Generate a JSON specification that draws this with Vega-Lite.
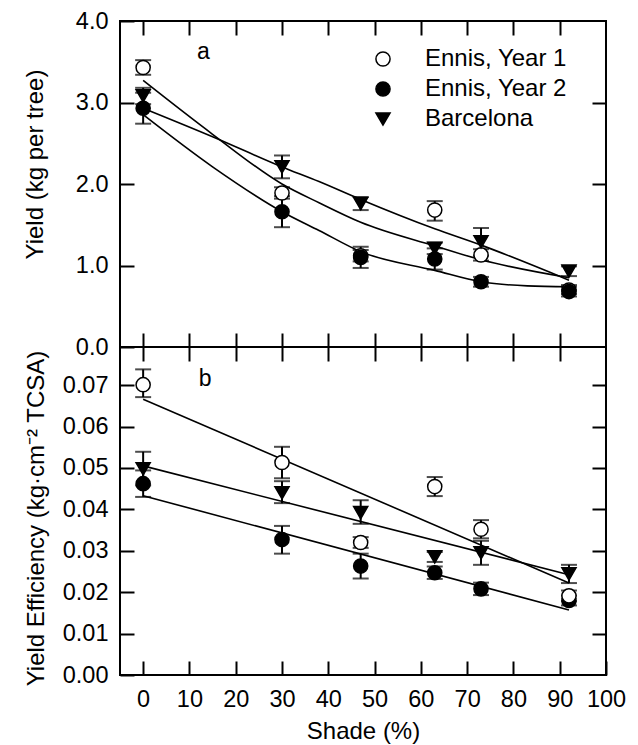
{
  "$schema": "https://vega.github.io/schema/vega-lite/v6.json",
  "background": "white",
  "padding": {"left": 22, "top": 8, "right": 5, "bottom": 0},
  "spacing": 0,
  "bounds": "flush",
  "config": {
    "font": "Liberation Sans",
    "view": {"stroke": "black", "strokeWidth": 2},
    "axis": {"domain": false, "grid": false, "ticks": true, "tickColor": "black", "tickWidth": 2, "tickSize": 14, "offset": -14,
      "labelFont": "Liberation Sans", "labelFontSize": 23.5, "labelColor": "black", "labelPadding": 12, "labelOverlap": false, "labelFlush": false,
      "titleFont": "Liberation Sans", "titleFontSize": 24, "titleFontWeight": "normal", "titleColor": "black"},
    "legend": {"labelFont": "Liberation Sans", "labelFontSize": 24, "labelColor": "black"}
  },
  "resolve": {"scale": {"x": "independent", "y": "independent", "shape": "independent", "fill": "independent", "stroke": "independent"}},
  "datasets": {
    "yield_pts": [
      {"series": "Ennis, Year 1", "shade": 0, "value": 3.43, "lo": 3.34, "hi": 3.52},
      {"series": "Ennis, Year 1", "shade": 30, "value": 1.89, "lo": 1.82, "hi": 1.96},
      {"series": "Ennis, Year 1", "shade": 47, "value": 1.12, "lo": 1.05, "hi": 1.19},
      {"series": "Ennis, Year 1", "shade": 63, "value": 1.68, "lo": 1.55, "hi": 1.79},
      {"series": "Ennis, Year 1", "shade": 73, "value": 1.13, "lo": 1.06, "hi": 1.20},
      {"series": "Ennis, Year 1", "shade": 92, "value": 0.70, "lo": 0.65, "hi": 0.76},
      {"series": "Ennis, Year 2", "shade": 0, "value": 2.93, "lo": 2.74, "hi": 3.12},
      {"series": "Ennis, Year 2", "shade": 30, "value": 1.66, "lo": 1.47, "hi": 1.85},
      {"series": "Ennis, Year 2", "shade": 47, "value": 1.10, "lo": 0.97, "hi": 1.23},
      {"series": "Ennis, Year 2", "shade": 63, "value": 1.08, "lo": 0.95, "hi": 1.21},
      {"series": "Ennis, Year 2", "shade": 73, "value": 0.80, "lo": 0.74, "hi": 0.86},
      {"series": "Ennis, Year 2", "shade": 92, "value": 0.68, "lo": 0.62, "hi": 0.74},
      {"series": "Barcelona", "shade": 0, "value": 3.08, "lo": 2.98, "hi": 3.18},
      {"series": "Barcelona", "shade": 30, "value": 2.21, "lo": 2.07, "hi": 2.35},
      {"series": "Barcelona", "shade": 47, "value": 1.76, "lo": 1.68, "hi": 1.84},
      {"series": "Barcelona", "shade": 63, "value": 1.21, "lo": 1.14, "hi": 1.28},
      {"series": "Barcelona", "shade": 73, "value": 1.29, "lo": 1.12, "hi": 1.46},
      {"series": "Barcelona", "shade": 92, "value": 0.93, "lo": 0.87, "hi": 0.99}
    ],
    "yield_fit": [
      {"series": "Ennis, Year 1", "shade": 0, "value": 3.27},
      {"series": "Ennis, Year 1", "shade": 15, "value": 2.61},
      {"series": "Ennis, Year 1", "shade": 30, "value": 2.00},
      {"series": "Ennis, Year 1", "shade": 38, "value": 1.77},
      {"series": "Ennis, Year 1", "shade": 47, "value": 1.53},
      {"series": "Ennis, Year 1", "shade": 63, "value": 1.24},
      {"series": "Ennis, Year 1", "shade": 73, "value": 1.07},
      {"series": "Ennis, Year 1", "shade": 92, "value": 0.85},
      {"series": "Ennis, Year 2", "shade": 0, "value": 2.85},
      {"series": "Ennis, Year 2", "shade": 15, "value": 2.21},
      {"series": "Ennis, Year 2", "shade": 30, "value": 1.66},
      {"series": "Ennis, Year 2", "shade": 38, "value": 1.43},
      {"series": "Ennis, Year 2", "shade": 47, "value": 1.17},
      {"series": "Ennis, Year 2", "shade": 63, "value": 0.94},
      {"series": "Ennis, Year 2", "shade": 73, "value": 0.80},
      {"series": "Ennis, Year 2", "shade": 83, "value": 0.75},
      {"series": "Ennis, Year 2", "shade": 92, "value": 0.74},
      {"series": "Barcelona", "shade": 0, "value": 2.93},
      {"series": "Barcelona", "shade": 15, "value": 2.58},
      {"series": "Barcelona", "shade": 30, "value": 2.21},
      {"series": "Barcelona", "shade": 38, "value": 2.03},
      {"series": "Barcelona", "shade": 47, "value": 1.81},
      {"series": "Barcelona", "shade": 63, "value": 1.45},
      {"series": "Barcelona", "shade": 73, "value": 1.25},
      {"series": "Barcelona", "shade": 92, "value": 0.82}
    ],
    "eff_pts": [
      {"series": "Ennis, Year 2", "shade": 0, "value": 0.0462, "lo": 0.0430, "hi": 0.0494},
      {"series": "Ennis, Year 2", "shade": 30, "value": 0.0327, "lo": 0.0293, "hi": 0.0360},
      {"series": "Ennis, Year 2", "shade": 47, "value": 0.0263, "lo": 0.0233, "hi": 0.0293},
      {"series": "Ennis, Year 2", "shade": 63, "value": 0.0247, "lo": 0.0232, "hi": 0.0262},
      {"series": "Ennis, Year 2", "shade": 73, "value": 0.0208, "lo": 0.0193, "hi": 0.0223},
      {"series": "Ennis, Year 2", "shade": 92, "value": 0.0180, "lo": 0.0168, "hi": 0.0192},
      {"series": "Ennis, Year 1", "shade": 0, "value": 0.0701, "lo": 0.0671, "hi": 0.0738},
      {"series": "Ennis, Year 1", "shade": 30, "value": 0.0513, "lo": 0.0475, "hi": 0.0551},
      {"series": "Ennis, Year 1", "shade": 47, "value": 0.0320, "lo": 0.0307, "hi": 0.0333},
      {"series": "Ennis, Year 1", "shade": 63, "value": 0.0455, "lo": 0.0432, "hi": 0.0478},
      {"series": "Ennis, Year 1", "shade": 73, "value": 0.0352, "lo": 0.0330, "hi": 0.0374},
      {"series": "Ennis, Year 1", "shade": 92, "value": 0.0191, "lo": 0.0178, "hi": 0.0204},
      {"series": "Barcelona", "shade": 0, "value": 0.0498, "lo": 0.0458, "hi": 0.0539},
      {"series": "Barcelona", "shade": 30, "value": 0.0440, "lo": 0.0415, "hi": 0.0468},
      {"series": "Barcelona", "shade": 47, "value": 0.0392, "lo": 0.0365, "hi": 0.0422},
      {"series": "Barcelona", "shade": 63, "value": 0.0285, "lo": 0.0273, "hi": 0.0297},
      {"series": "Barcelona", "shade": 73, "value": 0.0295, "lo": 0.0266, "hi": 0.0324},
      {"series": "Barcelona", "shade": 92, "value": 0.0244, "lo": 0.0222, "hi": 0.0266}
    ],
    "eff_fit": [
      {"series": "Ennis, Year 1", "shade": 0, "value": 0.0666},
      {"series": "Ennis, Year 1", "shade": 92, "value": 0.0222},
      {"series": "Ennis, Year 2", "shade": 0, "value": 0.0433},
      {"series": "Ennis, Year 2", "shade": 92, "value": 0.0157},
      {"series": "Barcelona", "shade": 0, "value": 0.0505},
      {"series": "Barcelona", "shade": 92, "value": 0.0242}
    ],
    "label_a": [{"shade": 13, "value": 3.62, "txt": "a"}],
    "label_b": [{"shade": 13.4, "value": 0.0715, "txt": "b"}]
  },
  "vconcat": [
    {
      "width": 486,
      "height": 326,
      "resolve": {"axis": {"x": "independent", "y": "independent"}},
      "layer": [
        {
          "data": {"name": "yield_fit"},
          "mark": {"type": "line", "interpolate": "monotone", "color": "black", "strokeWidth": 1.6},
          "encoding": {
            "x": {"field": "shade", "type": "quantitative", "scale": {"domain": [-5, 100], "nice": false, "zero": false},
              "axis": {"orient": "bottom", "values": [0, 10, 20, 30, 40, 50, 60, 70, 80, 90], "labels": false, "title": null}},
            "y": {"field": "value", "type": "quantitative", "scale": {"domain": [0, 4], "nice": false},
              "axis": {"orient": "left", "values": [0, 1, 2, 3, 4], "format": ".1f", "title": "Yield (kg per tree)", "titlePadding": 28, "titleY": 143}},
            "detail": {"field": "series"}
          }
        },
        {
          "data": {"name": "yield_pts"},
          "mark": {"type": "rule", "color": "black", "strokeWidth": 2},
          "encoding": {
            "x": {"field": "shade", "type": "quantitative", "scale": {"domain": [-5, 100], "nice": false, "zero": false},
              "axis": {"orient": "top", "values": [0, 10, 20, 30, 40, 50, 60, 70, 80, 90], "labels": false, "title": null}},
            "y": {"field": "lo", "type": "quantitative", "scale": {"domain": [0, 4], "nice": false},
              "axis": {"orient": "right", "values": [1, 2, 3], "labels": false, "title": null}},
            "y2": {"field": "hi"}
          }
        },
        {
          "data": {"name": "yield_pts"},
          "mark": {"type": "tick", "orient": "horizontal", "color": "black", "size": 16, "thickness": 2},
          "encoding": {
            "x": {"field": "shade", "type": "quantitative", "scale": {"domain": [-5, 100], "nice": false, "zero": false}, "axis": null},
            "y": {"field": "lo", "type": "quantitative", "scale": {"domain": [0, 4], "nice": false}, "axis": null}
          }
        },
        {
          "data": {"name": "yield_pts"},
          "mark": {"type": "tick", "orient": "horizontal", "color": "black", "size": 16, "thickness": 2},
          "encoding": {
            "x": {"field": "shade", "type": "quantitative", "scale": {"domain": [-5, 100], "nice": false, "zero": false}, "axis": null},
            "y": {"field": "hi", "type": "quantitative", "scale": {"domain": [0, 4], "nice": false}, "axis": null}
          }
        },
        {
          "data": {"name": "yield_pts"},
          "mark": {"type": "point", "filled": true, "strokeWidth": 1.5, "size": 200, "opacity": 1},
          "encoding": {
            "x": {"field": "shade", "type": "quantitative", "scale": {"domain": [-5, 100], "nice": false, "zero": false}, "axis": null},
            "y": {"field": "value", "type": "quantitative", "scale": {"domain": [0, 4], "nice": false}, "axis": null},
            "shape": {"field": "series", "type": "nominal",
              "scale": {"domain": ["Ennis, Year 1", "Ennis, Year 2", "Barcelona"], "range": ["circle", "circle", "triangle-down"]},
              "legend": {"title": null, "orient": "none", "legendX": 251, "legendY": 26, "padding": 0, "labelOffset": 30, "rowPadding": 6, "symbolSize": 200, "symbolStrokeWidth": 1.5, "labelFontSize": 24}},
            "fill": {"field": "series", "type": "nominal",
              "scale": {"domain": ["Ennis, Year 1", "Ennis, Year 2", "Barcelona"], "range": ["white", "black", "black"]},
              "legend": {"title": null, "orient": "none", "legendX": 251, "legendY": 26, "padding": 0, "labelOffset": 30, "rowPadding": 6, "symbolSize": 200, "symbolStrokeWidth": 1.5, "labelFontSize": 24}},
            "stroke": {"field": "series", "type": "nominal",
              "scale": {"domain": ["Ennis, Year 1", "Ennis, Year 2", "Barcelona"], "range": ["black", "black", "black"]},
              "legend": {"title": null, "orient": "none", "legendX": 251, "legendY": 26, "padding": 0, "labelOffset": 30, "rowPadding": 6, "symbolSize": 200, "symbolStrokeWidth": 1.5, "labelFontSize": 24}}
          }
        },
        {
          "data": {"name": "label_a"},
          "mark": {"type": "text", "fontSize": 23, "font": "Liberation Sans", "color": "black", "align": "center", "baseline": "middle"},
          "encoding": {
            "x": {"field": "shade", "type": "quantitative", "scale": {"domain": [-5, 100], "nice": false, "zero": false}, "axis": null},
            "y": {"field": "value", "type": "quantitative", "scale": {"domain": [0, 4], "nice": false}, "axis": null},
            "text": {"field": "txt"}
          }
        }
      ]
    },
    {
      "width": 486,
      "height": 328,
      "resolve": {"axis": {"x": "independent", "y": "independent"}},
      "layer": [
        {
          "data": {"name": "eff_fit"},
          "mark": {"type": "line", "color": "black", "strokeWidth": 1.6},
          "encoding": {
            "x": {"field": "shade", "type": "quantitative", "scale": {"domain": [-5, 100], "nice": false, "zero": false},
              "axis": {"orient": "bottom", "values": [0, 10, 20, 30, 40, 50, 60, 70, 80, 90, 100], "title": "Shade (%)", "titlePadding": 9, "labelPadding": 12}},
            "y": {"field": "value", "type": "quantitative", "scale": {"domain": [0, 0.0792], "nice": false},
              "axis": {"orient": "left", "values": [0, 0.01, 0.02, 0.03, 0.04, 0.05, 0.06, 0.07], "format": ".2f", "title": "Yield Efficiency (kg·cm⁻² TCSA)", "titlePadding": 14, "titleY": 171}},
            "detail": {"field": "series"}
          }
        },
        {
          "data": {"name": "eff_pts"},
          "mark": {"type": "rule", "color": "black", "strokeWidth": 2},
          "encoding": {
            "x": {"field": "shade", "type": "quantitative", "scale": {"domain": [-5, 100], "nice": false, "zero": false},
              "axis": {"orient": "top", "values": [0, 10, 20, 30, 40, 50, 60, 70, 80, 90], "labels": false, "title": null}},
            "y": {"field": "lo", "type": "quantitative", "scale": {"domain": [0, 0.0792], "nice": false},
              "axis": {"orient": "right", "values": [0.01, 0.02, 0.03, 0.04, 0.05, 0.06, 0.07], "labels": false, "title": null}},
            "y2": {"field": "hi"}
          }
        },
        {
          "data": {"name": "eff_pts"},
          "mark": {"type": "tick", "orient": "horizontal", "color": "black", "size": 16, "thickness": 2},
          "encoding": {
            "x": {"field": "shade", "type": "quantitative", "scale": {"domain": [-5, 100], "nice": false, "zero": false}, "axis": null},
            "y": {"field": "lo", "type": "quantitative", "scale": {"domain": [0, 0.0792], "nice": false}, "axis": null}
          }
        },
        {
          "data": {"name": "eff_pts"},
          "mark": {"type": "tick", "orient": "horizontal", "color": "black", "size": 16, "thickness": 2},
          "encoding": {
            "x": {"field": "shade", "type": "quantitative", "scale": {"domain": [-5, 100], "nice": false, "zero": false}, "axis": null},
            "y": {"field": "hi", "type": "quantitative", "scale": {"domain": [0, 0.0792], "nice": false}, "axis": null}
          }
        },
        {
          "data": {"name": "eff_pts"},
          "mark": {"type": "point", "filled": true, "stroke": "black", "strokeWidth": 1.5, "size": 200, "opacity": 1},
          "encoding": {
            "x": {"field": "shade", "type": "quantitative", "scale": {"domain": [-5, 100], "nice": false, "zero": false}, "axis": null},
            "y": {"field": "value", "type": "quantitative", "scale": {"domain": [0, 0.0792], "nice": false}, "axis": null},
            "shape": {"field": "series", "type": "nominal",
              "scale": {"domain": ["Ennis, Year 1", "Ennis, Year 2", "Barcelona"], "range": ["circle", "circle", "triangle-down"]}, "legend": null},
            "fill": {"field": "series", "type": "nominal",
              "scale": {"domain": ["Ennis, Year 1", "Ennis, Year 2", "Barcelona"], "range": ["white", "black", "black"]}, "legend": null}
          }
        },
        {
          "data": {"name": "label_b"},
          "mark": {"type": "text", "fontSize": 23, "font": "Liberation Sans", "color": "black", "align": "center", "baseline": "middle"},
          "encoding": {
            "x": {"field": "shade", "type": "quantitative", "scale": {"domain": [-5, 100], "nice": false, "zero": false}, "axis": null},
            "y": {"field": "value", "type": "quantitative", "scale": {"domain": [0, 0.0792], "nice": false}, "axis": null},
            "text": {"field": "txt"}
          }
        }
      ]
    }
  ]
}
